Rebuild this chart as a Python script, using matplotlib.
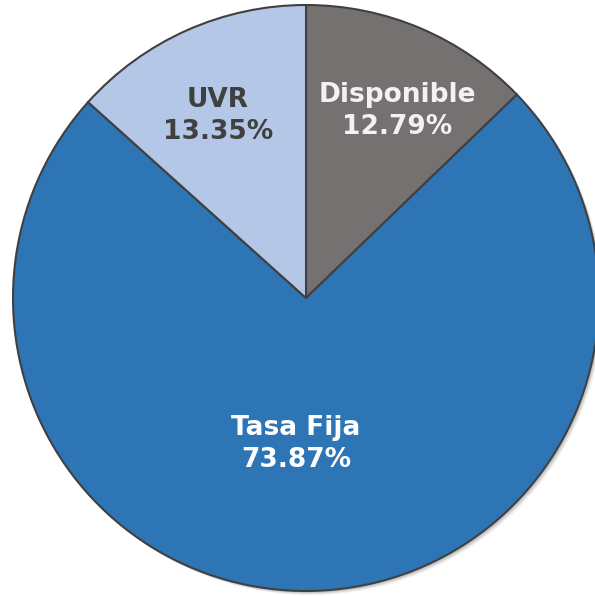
import matplotlib
matplotlib.use("Agg")
import matplotlib.pyplot as plt
from matplotlib.patches import Circle

categories = ["Disponible", "Tasa Fija", "UVR"]
values = [12.79, 73.87, 13.35]
labels_pct = ["12.79%", "73.87%", "13.35%"]

colors = ["#767171", "#2E75B6", "#B4C7E7"]
text_colors = ["#F2F2F2", "#FFFFFF", "#404040"]
# label centers in pixel coordinates (x, y from top)
label_pos = [(397, 111), (296, 444), (218, 116)]

W, H = 595, 596
fig = plt.figure(figsize=(W / 100, H / 100), dpi=100)
ax = fig.add_axes([0, 0, 1, 1])

cx, cy, r = 306, H - 298, 293

# subtle shadow
for i, a in enumerate([0.10, 0.08, 0.06]):
    ax.add_patch(Circle((cx + 2 + i, cy - 2 - i), r, facecolor="#000000", alpha=a,
                        edgecolor="none", zorder=0))

ax.pie(values, colors=colors, startangle=90, counterclock=False,
       center=(cx, cy), radius=r, frame=True,
       wedgeprops=dict(edgecolor="#404040", linewidth=1.5), normalize=True)
ax.set_xlim(0, W)
ax.set_ylim(0, H)
ax.set_aspect("equal")
ax.axis("off")

for cat, pct, (x, y), tc in zip(categories, labels_pct, label_pos, text_colors):
    ax.text(x, H - y, f"{cat}\n{pct}", ha="center", va="center", color=tc,
            fontsize=19, fontweight="bold", family="DejaVu Sans",
            linespacing=1.3, zorder=5)

fig.savefig("out.png", dpi=100)
